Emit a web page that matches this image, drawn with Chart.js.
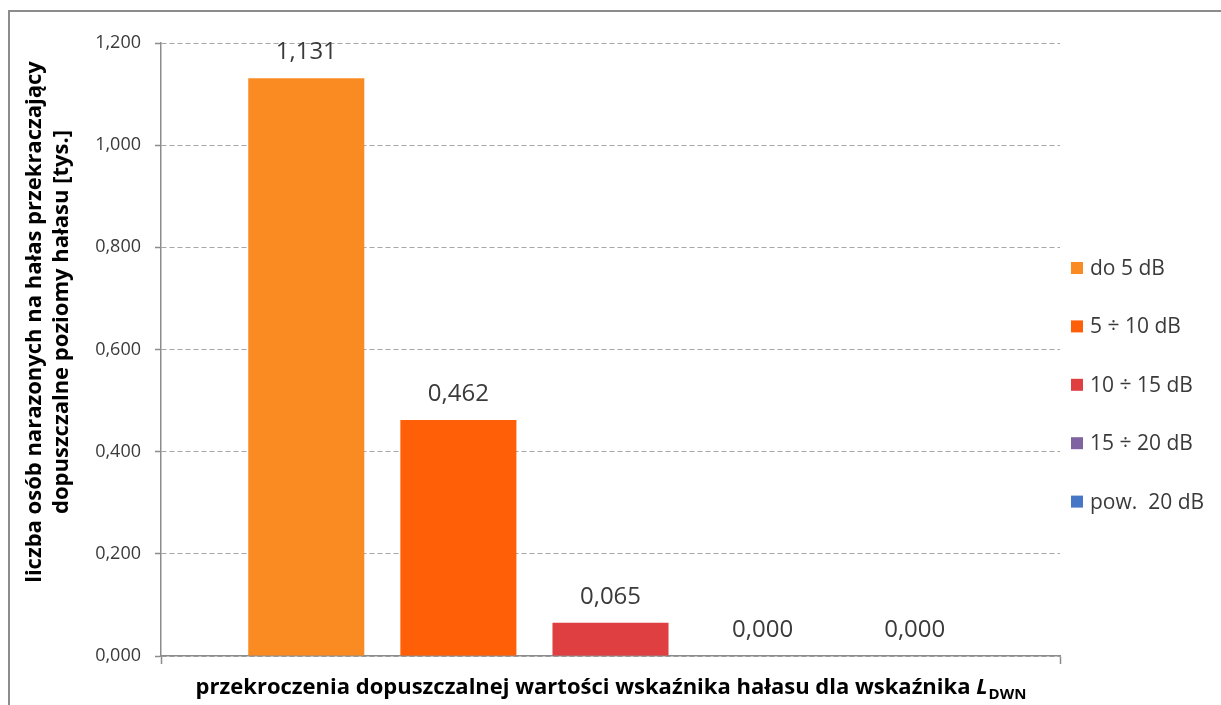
<!DOCTYPE html>
<html>
<head>
<meta charset="utf-8">
<script src="https://cdn.jsdelivr.net/npm/chart.js@4.4.1/dist/chart.umd.min.js"></script>
<style>
    html, body { margin: 0; padding: 0; background: #fff; }
    canvas { display: block; }
</style>
</head>
<body>
<canvas id="noiseChart" width="1221" height="705"></canvas>
<script>
const categories = [''];
const seriesLabels = ['do 5 dB', '5 \u00f7 10 dB', '10 \u00f7 15 dB', '15 \u00f7 20 dB', 'pow.  20 dB'];
const seriesValues = [1.131, 0.462, 0.065, 0.000, 0.000];
const seriesColors = ['#fa8b22', '#ff5f07', '#e03f42', '#8064a2', '#4677c6'];
const yTicks = [0, 0.2, 0.4, 0.6, 0.8, 1.0, 1.2];

const yTitle = ['liczba osób narazonych na hałas przekraczający', 'dopuszczalne poziomy hałasu [tys.]'];
const xTitleMain = 'przekroczenia dopuszczalnej wartości wskaźnika hałasu dla wskaźnika ';
const xTitleSymbol = 'L';
const xTitleSub = 'DWN';

const fontFamily = "'Open Sans', 'Noto Sans', sans-serif";
const axisGray = '#8c8c8c';
const textColor = '#3a3a3a';
const fmt = (v) => Number(v).toFixed(3).replace('.', ',');

const framePlugin = {
    id: 'frame',
    beforeDraw(chart) {
        const { ctx, width, height } = chart;
        ctx.save();
        ctx.fillStyle = '#fff';
        ctx.fillRect(0, 0, width, height);
        ctx.strokeStyle = axisGray;
        ctx.lineWidth = 2;
        ctx.beginPath();
        ctx.moveTo(9, height);
        ctx.lineTo(9, 11);
        ctx.lineTo(width, 11);
        ctx.stroke();
        ctx.restore();
    },
};

const valueLabels = {
    id: 'valueLabels',
    afterDatasetsDraw(chart) {
        const { ctx } = chart;
        ctx.save();
        ctx.font = `24px ${fontFamily}`;
        ctx.fillStyle = textColor;
        ctx.textAlign = 'center';
        ctx.textBaseline = 'middle';
        chart.data.datasets.forEach((ds, i) => {
            const bar = chart.getDatasetMeta(i).data[0];
            if (bar) {
                ctx.fillText(fmt(ds.data[0]), bar.x, bar.y - 26);
            }
        });
        ctx.restore();
    },
};

const sideLegend = {
    id: 'sideLegend',
    afterDraw(chart) {
        const { ctx, chartArea } = chart;
        const x = chartArea.right + 11;
        ctx.save();
        ctx.font = `21px ${fontFamily}`;
        ctx.textBaseline = 'middle';
        chart.data.datasets.forEach((ds, i) => {
            const y = 268 + i * 58.4;
            ctx.fillStyle = ds.backgroundColor;
            ctx.fillRect(x, y - 6, 12, 12);
            ctx.fillStyle = textColor;
            ctx.fillText(ds.label, x + 19, y + 1);
        });
        ctx.restore();
    },
};

// axis titles drawn by hand: the x one needs an italic symbol with a subscript
const axisTitles = {
    id: 'axisTitles',
    afterDraw(chart) {
        const { ctx, chartArea } = chart;
        const boldFont = `bold 22px ${fontFamily}`;
        const italicFont = `italic bold 22px ${fontFamily}`;
        const subFont = `bold 15px ${fontFamily}`;
        ctx.save();
        ctx.fillStyle = '#000';

        ctx.save();
        ctx.translate(35, 322);
        ctx.rotate(-Math.PI / 2);
        ctx.font = boldFont;
        ctx.textAlign = 'center';
        ctx.textBaseline = 'middle';
        yTitle.forEach((line, i) => ctx.fillText(line, 0, i * 27));
        ctx.restore();

        ctx.textBaseline = 'alphabetic';
        ctx.font = boldFont;
        const w1 = ctx.measureText(xTitleMain).width;
        ctx.font = italicFont;
        const w2 = ctx.measureText(xTitleSymbol).width;
        ctx.font = subFont;
        const w3 = ctx.measureText(xTitleSub).width;
        let x = (chartArea.left + chartArea.right) / 2 - (w1 + w2 + w3) / 2;
        const y = 694;
        ctx.font = boldFont;
        ctx.fillText(xTitleMain, x, y);
        x += w1;
        ctx.font = italicFont;
        ctx.fillText(xTitleSymbol, x, y);
        x += w2 + 1;
        ctx.font = subFont;
        ctx.fillText(xTitleSub, x, y + 5);
        ctx.restore();
    },
};

new Chart(document.getElementById('noiseChart'), {
    type: 'bar',
    data: {
        labels: categories,
        datasets: seriesLabels.map((label, i) => ({
            label,
            data: [seriesValues[i]],
            backgroundColor: seriesColors[i],
            borderWidth: 0,
            categoryPercentage: 0.846,
            barPercentage: 0.763,
        })),
    },
    options: {
        responsive: false,
        animation: false,
        layout: { padding: { top: 43, right: 161, left: 0, bottom: 0 } },
        plugins: {
            legend: { display: false },
            tooltip: { enabled: false },
        },
        scales: {
            x: {
                offset: true,
                afterFit: (s) => { s.height = 49; },
                grid: { display: true, offset: true, drawOnChartArea: false, drawTicks: true, tickLength: 8, tickColor: axisGray, tickWidth: 1.5 },
                border: { display: true, color: axisGray, width: 1.5 },
                ticks: { display: false },
            },
            y: {
                min: 0,
                max: 1.2,
                afterFit: (s) => { s.width = 161; },
                afterBuildTicks: (s) => { s.ticks = yTicks.map((v) => ({ value: v })); },
                grid: { color: '#a6a6a6', lineWidth: 1, drawTicks: true, tickLength: 6, tickColor: axisGray, tickWidth: 1.5, tickBorderDash: [] },
                border: { display: true, color: axisGray, width: 1.5, dash: [5, 3] },
                ticks: { padding: 14, color: textColor, font: { family: fontFamily, size: 18 }, callback: (v) => fmt(v) },
            },
        },
    },
    plugins: [framePlugin, valueLabels, sideLegend, axisTitles],
});
</script>
</body>
</html>
